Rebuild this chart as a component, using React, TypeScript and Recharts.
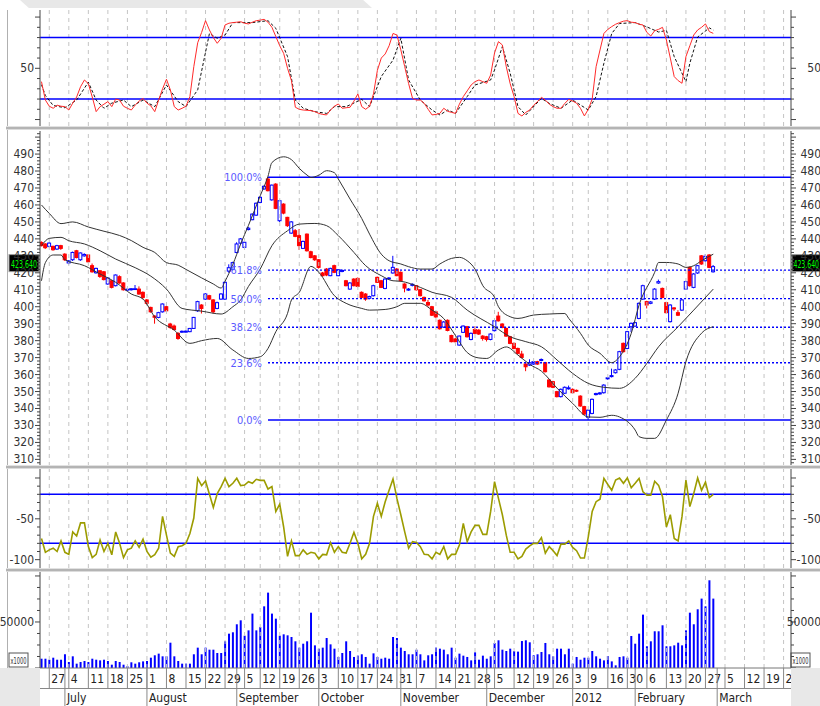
import React from "react";
import { ComposedChart, Bar, Line, XAxis, YAxis, ReferenceLine } from "recharts";

const FONT = '"Liberation Sans Narrow", "Arial Narrow", "DejaVu Sans Condensed", sans-serif';
const X_DOMAIN: [number, number] = [-0.38, 191.9];

// trading-day index of each weekly grid line and its label
const weekTicks: [number, string][] = [
  [2, "27"], [7, "4"], [12, "11"], [17, "18"], [22, "25"], [27, "1"], [32, "8"], [37, "15"],
  [42, "22"], [47, "29"], [52, "5"], [56, "12"], [61, "19"], [66, "26"], [71, "3"], [76, "10"],
  [81, "17"], [86, "24"], [91, "31"], [96, "7"], [101, "14"], [106, "21"], [111, "28"], [116, "5"],
  [121, "12"], [126, "19"], [131, "26"], [136, "3"], [140, "9"], [145, "16"], [150, "30"], [155, "6"],
  [160, "13"], [165, "20"], [170, "27"], [175, "5"], [180, "12"], [185, "19"], [190, "26"],
];
const monthTicks: [number, string][] = [
  [6, "July"], [27, "August"], [50, "September"], [71, "October"], [92, "November"],
  [114, "December"], [136, "2012"], [152, "February"], [173, "March"],
];

const opens = [
  437.9, 437.0, 435.6, 435.6, 434.0, 436.0, 431.0, 425.8, 427.7, 433.0, 427.7, 430.0, 430.5, 424.2, 420.0, 421.2, 420.6, 413.4, 415.3, 412.4,
  417.7, 414.0, 409.8, 410.0, 410.2, 410.4, 408.5, 404.0, 399.6, 394.5, 393.7, 397.0, 400.0, 389.8, 388.6, 384.3, 385.0, 385.0, 385.3, 387.2,
  397.6, 401.0, 404.5, 406.5, 404.0, 399.0, 404.5, 404.5, 421.0, 422.0, 432.0, 437.5, 435.0, 445.5, 451.3, 454.0, 461.5, 469.4, 475.3, 463.0,
  472.3, 450.7, 460.5, 452.7, 443.4, 444.8, 441.9, 434.4, 442.8, 432.4, 430.0, 427.7, 419.9, 422.2, 418.3, 424.2, 418.3, 420.8, 415.3, 410.4,
  416.3, 416.7, 408.5, 407.5, 405.0, 406.5, 417.3, 415.3, 410.8, 416.4, 419.9, 422.2, 420.3, 413.4, 409.8, 412.6, 412.4, 410.0, 405.5, 402.5,
  400.0, 397.0, 392.0, 388.0, 392.0, 383.0, 381.0, 377.4, 384.9, 388.2, 380.7, 386.6, 386.2, 382.7, 382.3, 380.7, 385.9, 394.5, 389.8, 387.2,
  382.3, 378.4, 375.4, 372.1, 366.2, 365.6, 366.2, 367.6, 368.3, 367.0, 356.8, 355.8, 349.9, 347.0, 349.0, 351.6, 351.3, 350.7, 347.3, 341.1,
  334.8, 337.1, 348.2, 348.6, 349.3, 357.5, 358.8, 361.1, 363.1, 378.4, 375.4, 388.2, 388.6, 393.1, 404.5, 403.0, 402.0, 404.5, 414.0, 410.8,
  402.4, 391.2, 399.3, 396.5, 398.0, 410.4, 423.2, 411.4, 419.9, 430.0, 427.1, 430.5, 420.6,
];
const closes = [
  436.0, 434.8, 437.5, 433.6, 436.0, 434.4, 427.7, 427.0, 432.0, 429.0, 431.7, 430.8, 426.5, 420.6, 422.6, 417.9, 416.0, 416.9, 411.4, 418.7,
  414.0, 410.0, 410.3, 410.6, 410.6, 407.5, 405.5, 402.0, 397.0, 393.8, 396.5, 401.6, 397.6, 387.8, 386.6, 381.3, 385.5, 385.6, 387.2, 393.7,
  403.0, 399.0, 407.5, 404.5, 397.0, 402.4, 407.5, 414.4, 423.0, 426.0, 437.0, 440.0, 438.0, 446.3, 454.6, 461.0, 464.5, 471.0, 468.4, 471.7,
  458.0, 462.5, 455.2, 447.8, 450.0, 441.5, 436.0, 438.5, 433.0, 429.0, 427.7, 423.2, 418.3, 418.7, 422.6, 420.3, 421.8, 421.4, 412.4, 414.0,
  412.4, 412.0, 405.5, 404.5, 406.0, 412.4, 414.4, 411.4, 416.3, 416.9, 423.2, 418.3, 415.3, 411.0, 410.4, 413.2, 410.0, 406.5, 403.5, 401.0,
  395.0, 394.0, 387.0, 391.0, 386.0, 379.4, 379.4, 382.7, 388.6, 382.3, 384.3, 384.3, 383.9, 381.3, 380.7, 383.9, 391.7, 391.7, 387.8, 382.7,
  378.4, 375.4, 372.5, 370.1, 364.6, 367.0, 367.6, 366.2, 368.9, 361.7, 352.8, 352.5, 347.0, 351.3, 352.5, 352.2, 349.3, 350.2, 341.5, 336.7,
  339.0, 345.4, 348.8, 349.2, 353.8, 358.1, 359.4, 362.7, 373.5, 373.5, 385.3, 390.2, 390.6, 402.0, 412.4, 401.0, 402.8, 410.4, 414.8, 405.5,
  396.5, 401.0, 398.7, 395.0, 404.0, 414.8, 412.4, 419.3, 424.2, 425.2, 429.7, 423.2, 423.64,
];
const highs = [
  438.6, 437.5, 438.0, 436.0, 436.5, 436.5, 431.5, 427.5, 432.5, 433.5, 432.0, 431.5, 431.0, 425.5, 423.0, 421.5, 421.0, 417.5, 415.8, 419.0,
  418.5, 414.5, 410.8, 411.0, 412.8, 412.0, 409.0, 404.5, 400.0, 395.0, 397.0, 402.0, 400.5, 390.5, 389.5, 385.0, 386.0, 386.0, 387.5, 394.0,
  403.5, 401.5, 408.0, 407.0, 404.5, 403.0, 408.0, 415.0, 425.0, 426.5, 438.0, 440.5, 438.5, 447.0, 455.0, 461.5, 465.0, 471.5, 476.3, 472.0,
  472.8, 463.0, 461.0, 453.0, 450.5, 445.8, 445.8, 439.0, 443.2, 433.0, 430.5, 428.0, 420.5, 422.8, 423.0, 424.8, 422.2, 422.0, 415.8, 414.5,
  416.8, 417.2, 409.0, 408.0, 406.5, 413.0, 417.8, 415.8, 416.8, 417.5, 430.0, 422.8, 420.8, 413.8, 411.0, 413.8, 412.8, 410.5, 406.0, 404.0,
  400.5, 397.5, 392.5, 391.5, 392.5, 383.5, 381.5, 383.0, 389.0, 388.7, 384.8, 388.5, 386.7, 383.2, 382.8, 384.4, 392.2, 397.0, 390.3, 387.7,
  382.8, 378.9, 375.9, 374.0, 366.7, 369.0, 368.1, 368.1, 369.5, 367.5, 357.3, 356.3, 350.4, 351.8, 353.0, 353.5, 351.8, 351.2, 347.8, 341.6,
  339.5, 345.9, 349.3, 349.7, 354.3, 358.6, 363.5, 363.2, 374.0, 378.9, 385.8, 390.7, 391.1, 402.5, 413.0, 403.5, 403.3, 410.9, 416.0, 411.3,
  402.9, 401.5, 399.8, 398.0, 404.5, 415.3, 423.7, 419.8, 424.7, 430.5, 431.0, 431.0, 424.6,
];
const lows = [
  435.5, 434.0, 435.0, 433.0, 433.5, 433.5, 427.0, 425.0, 427.0, 428.5, 427.0, 429.5, 426.0, 420.0, 419.5, 417.0, 415.5, 413.0, 410.8, 412.0,
  413.5, 409.5, 409.3, 409.5, 410.0, 407.0, 404.5, 401.0, 396.5, 390.0, 393.2, 396.5, 397.0, 387.0, 386.0, 380.5, 384.5, 384.8, 385.0, 387.0,
  397.0, 396.0, 404.0, 404.0, 396.0, 398.5, 404.0, 404.0, 420.0, 421.5, 431.5, 437.0, 434.5, 445.0, 451.0, 453.5, 461.0, 469.0, 468.0, 462.5,
  457.5, 450.0, 454.5, 447.0, 443.0, 441.0, 433.5, 434.0, 432.5, 428.5, 427.0, 422.5, 417.8, 418.0, 418.0, 419.8, 418.0, 420.3, 412.0, 410.0,
  412.0, 411.5, 405.0, 403.5, 404.5, 406.0, 414.0, 411.0, 410.3, 416.0, 419.5, 418.0, 414.8, 408.5, 409.3, 412.0, 409.5, 406.0, 403.0, 400.0,
  394.5, 393.5, 386.5, 387.5, 385.5, 379.0, 378.5, 377.0, 384.5, 381.8, 380.2, 383.8, 383.4, 380.0, 379.5, 380.2, 385.4, 391.2, 387.3, 382.2,
  377.9, 374.9, 372.0, 369.6, 362.0, 365.1, 365.7, 365.7, 367.8, 361.2, 352.3, 352.0, 346.5, 346.5, 348.5, 351.1, 348.8, 349.7, 341.0, 336.2,
  333.2, 336.6, 347.7, 348.1, 348.8, 357.0, 358.3, 360.6, 362.6, 373.0, 374.9, 385.0, 388.1, 392.6, 404.0, 399.0, 401.5, 404.0, 413.5, 405.0,
  396.0, 390.7, 397.5, 394.5, 397.5, 409.9, 411.9, 410.9, 419.4, 424.7, 426.6, 422.7, 420.1,
];
const volumes = [
  10100, 10100, 9000, 11200, 9000, 9000, 14900, 6500, 12700, 4700, 6500, 7600, 6500, 10100, 9000, 8300, 9000, 7600, 3600, 7600,
  6500, 3600, 2000, 6200, 4700, 6200, 7200, 7600, 11200, 13800, 15600, 12700, 12700, 27500, 12700, 7600, 4700, 4700, 4700, 14900,
  22100, 14900, 22100, 19900, 19900, 16300, 16300, 29000, 37300, 38800, 47500, 51800, 35100, 40900, 59100, 40900, 44600, 67000, 81900, 59100,
  53600, 35100, 36600, 35500, 33700, 29000, 22100, 26400, 29000, 60100, 24600, 21000, 22100, 32600, 25700, 21000, 12000, 16300, 29000, 18500,
  12000, 13400, 14900, 12000, 4700, 15900, 12000, 10100, 11200, 10100, 33700, 32600, 22100, 18500, 14900, 14900, 19900, 14900, 8300, 13800,
  14900, 22100, 21000, 19900, 14900, 22100, 11200, 15600, 13400, 12000, 8300, 17000, 9000, 13400, 10100, 12700, 27200, 30100, 19900, 18500,
  21000, 18500, 17800, 29300, 30100, 27900, 13800, 14900, 17400, 27200, 14900, 12700, 21000, 21000, 14900, 21000, 4700, 12000, 9000, 11200,
  11200, 18500, 12700, 10100, 8300, 13000, 7200, 2900, 12000, 12700, 11200, 34800, 26400, 37300, 58000, 23600, 29000, 39900, 39900, 46400,
  23600, 23600, 24600, 27500, 24600, 40900, 60100, 47500, 63800, 75400, 67000, 95300, 75400,
];
const stochK = [
  37, 19, 13, 11, 14, 13, 12.6, 9.3, 16, 22, 32, 38.6, 35, 22, 7.7, 12.6, 15, 17.5, 12.6, 20,
  19, 13, 11, 9.3, 14.2, 18, 20.7, 16, 13.3, 7.7, 19, 30, 39.3, 28.9, 12.6, 9.3, 11, 13, 22.4, 51.6,
  75, 85, 96.5, 87.4, 80, 74.4, 79.3, 92.3, 94, 94.6, 95, 95.5, 94, 93.3, 95, 96.5, 97, 97.8, 95, 90,
  81, 72, 64.6, 50, 38, 12, 10, 9.3, 9, 8.7, 7.7, 6, 5, 4.5, 9.3, 13, 15.2, 11, 11.5, 12,
  18, 25, 12.6, 10, 13, 25, 48, 60, 64, 72, 84, 82.5, 68, 51.6, 35, 20.7, 19, 19, 15.8, 10,
  4.5, 5, 6, 11, 8, 7, 6, 15, 22.4, 28, 33.7, 37, 38.6, 37, 35.4, 43.5, 65, 76, 72.8, 51.6,
  35, 22.4, 6, 3.5, 7, 9.3, 14, 17.5, 21.7, 19, 15, 12.6, 11, 11, 15.8, 19.7, 18, 16, 11, 3.5,
  10, 20, 51.6, 67.9, 84, 88, 90.7, 93, 94.6, 96, 96.5, 95, 94.6, 93, 92.3, 85, 81.5, 86.7, 88, 90,
  77.6, 60, 41.9, 38, 35.4, 61.4, 72, 82.5, 87.4, 90, 93.3, 85.8, 84.1,
];
const stochD: [number, number][] = [
  [0, 34], [1, 23.5], [3, 13.7], [6, 11.5], [9, 19], [12, 36.5], [14, 19], [16, 11], [18, 16], [21, 19],
  [23, 12.6], [26, 19], [29, 12.6], [32, 33.7], [35, 17.5], [37, 12.6], [40, 29], [43, 84], [45, 79.3], [47, 82.5],
  [49, 94.6], [54, 94.6], [58, 96.5], [60, 89], [63, 61.4], [65, 19], [67, 11], [70, 7.7], [73, 6], [75, 12.6],
  [78, 12.6], [82, 19.7], [84, 12.6], [87, 42], [90, 58], [92, 79.3], [94, 38.6], [97, 19], [100, 9.3], [102, 4.5],
  [104, 9.3], [106, 6], [109, 22.4], [111, 33.7], [115, 38.6], [116, 48.4], [118, 71.2], [120, 45.2], [122, 12.6], [124, 4.5],
  [128, 20.7], [130, 15.8], [133, 11], [136, 19], [138, 14.2], [140, 9.3], [142, 22.4], [144, 55], [146, 84], [148, 93.7],
  [152, 94.6], [155, 90.4], [158, 85.4], [160, 87], [162, 61.4], [165, 37], [166, 55], [168, 80.5], [171, 89.4], [172, 87.4],
];
const willR = [
  -74, -91, -88, -86, -90, -77, -91, -93.5, -66, -71, -55, -55, -84, -97.5, -93.5, -76, -90, -80, -94, -66,
  -80, -97.5, -88, -86, -77, -85, -75, -90, -97, -94, -86, -47, -70, -92, -96, -84, -83, -80, -68, -49,
  -0.5, -9.4, -3.7, -20, -36, -19, -10.6, -0.4, -10.6, -6.5, -0.4, -9.4, -8.6, -4.5, -6.5, -1.6, -2.9, -2.9, -13.5, -10.6,
  -41, -32, -60, -96, -77, -95, -95, -88, -93.5, -91, -92, -99, -93.5, -94, -79, -91, -84, -91, -92, -80,
  -66.5, -80, -99, -93.5, -80, -47, -31, -47, -29, -15, -1.2, -25, -45, -66, -86, -78, -79, -84, -93.5, -94,
  -99, -91, -93.5, -84, -99, -93.5, -93.5, -82, -55.5, -78, -66, -58, -58, -69, -69, -41, -4.5, -25, -45, -70,
  -91, -91, -99, -96, -87, -83, -80, -80, -73, -92, -84, -89, -95, -81, -81, -77, -85, -89, -98, -98,
  -72, -41, -29, -26, -0.5, -8, -15, -2.5, 0, -6.5, 0, -12, -6.5, -0.5, -17, -21, -21, -4, -9, -23,
  -60, -45, -74, -77, -47, -2.5, -35, -19, 0, -15, -5, -24, -20,
];
const bbUpper: [number, number][] = [
  [0, 460], [2, 455], [5, 449], [8, 450], [12, 447], [16, 444.5], [20, 442], [23, 439], [26, 435], [29, 432],
  [32, 426], [35, 424.5], [37, 422], [41, 417], [44, 413.4], [46, 411], [47, 415], [49, 425], [51, 437], [53, 448],
  [56, 465.4], [58, 477], [59, 485], [62, 488.4], [64, 486.7], [66, 481.6], [68, 477.6], [69, 476.2], [71, 477.5], [73, 480.2],
  [75, 479], [76, 475.3], [79, 463.5], [82, 452], [84, 442.8], [87, 431], [89, 427.1], [92, 425.2], [94, 423.6], [97, 422.2],
  [100, 422.2], [102, 425.2], [105, 428.5], [107, 429.1], [109, 427.1], [111, 422.2], [113, 412.4], [116, 405.5], [117, 400], [120, 394.1],
  [122, 393.1], [126, 395.1], [130, 395.7], [134, 396], [135, 393.1], [138, 384.3], [140, 377.4], [143, 372.5], [146, 367], [148, 370.5],
  [151, 384.3], [153, 401], [157, 420.3], [158, 426.1], [160, 426.1], [163, 425.2], [165, 423.2], [167, 424.2], [169, 427.1], [172, 431],
];
const bbMid: [number, number][] = [
  [0, 436], [2, 440.3], [5, 440.9], [7, 438.9], [11, 437], [15, 433], [19, 428.1], [24, 423], [28, 418], [32, 410.4],
  [36, 399], [41, 397.4], [46, 395.7], [49, 400], [51, 404], [53, 412], [56, 422.2], [59, 436], [63, 444.8], [66, 448.7],
  [70, 449.1], [73, 447.8], [76, 441.9], [80, 432], [83, 424.2], [87, 418.3], [90, 415.3], [92, 415], [97, 411.4], [100, 408.5],
  [105, 405.5], [109, 398], [116, 388.2], [120, 382.3], [124, 379.4], [128, 376.4], [132, 368.6], [136, 360.7], [140, 354.8], [144, 352.5],
  [148, 351.9], [152, 357.8], [155, 366.6], [158, 376.4], [163, 388.2], [167, 398], [172, 410.4],
];
const bbLower: [number, number][] = [
  [0, 415.3], [1, 426], [3, 430.5], [5, 430.5], [6, 427.7], [11, 424.2], [15, 419.3], [19, 414.4], [23, 407.5], [26, 404.5],
  [29, 394], [34, 386.2], [38, 378.4], [41, 380], [45, 381.3], [49, 374.5], [53, 369.5], [56, 370.5], [58, 375.4], [60, 385.3],
  [63, 396.1], [64, 404], [66, 408.5], [69, 423.8], [71, 420.3], [75, 406.5], [78, 402], [82, 399], [84, 398], [88, 398.4],
  [91, 400], [93, 402], [97, 402], [100, 398], [103, 393], [106, 383], [109, 373], [112, 369.8], [114, 369.5], [117, 374.5],
  [119, 376.3], [122, 371.5], [125, 366], [128, 362], [132, 352], [136, 343], [140, 335], [143, 334.8], [146, 336], [148, 335],
  [152, 327.3], [153, 323.4], [155, 322.4], [157, 322.4], [160, 333.2], [163, 349], [165, 367.6], [169, 384.4], [172, 388.2],
];

const fibLevels = [
  { text: "100.0%", value: 476.3, solid: true },
  { text: "61.8%", value: 421.6, solid: false },
  { text: "50.0%", value: 404.75, solid: false },
  { text: "38.2%", value: 387.9, solid: false },
  { text: "23.6%", value: 367.0, solid: false },
  { text: "0.0%", value: 333.2, solid: true },
];
const FIB_START = 58;
const LAST_PRICE = 423.64;

const rows: any[] = opens.map((o, i) => ({
  i, o, c: closes[i], h: highs[i], l: lows[i], hl: [lows[i], highs[i]],
  vol: volumes[i], k: stochK[i], wr: willR[i],
}));
const put = (pairs: [number, number][], key: string) => pairs.forEach(([i, v]) => { rows[i][key] = v; });
put(stochD, "d");
put(bbUpper, "up");
put(bbMid, "mid");
put(bbLower, "lo");

const range = (a: number, b: number, s: number) => {
  const out: number[] = [];
  for (let v = a; s > 0 ? v <= b : v >= b; v += s) out.push(v);
  return out;
};
const priceTicks = range(308, 502, 2);
const stochTicks = range(0, 100, 10);
const wrTicks = range(0, -100, -10);
const volTicks = range(0, 100000, 12500);

const weekMap = new Map(weekTicks);
const monthMap = new Map(monthTicks);
const dateTickIdx = Array.from(new Set([...weekTicks.map((w) => w[0]), ...monthTicks.map((m) => m[0])])).sort((a, b) => a - b);

const axisTick = (side: "l" | "r", isMajor: (v: number) => boolean, label: (v: number) => string | null) =>
  (props: any) => {
    const { x, y, payload } = props;
    const v = payload.value;
    const len = isMajor(v) ? 5 : 3;
    const text = label(v);
    const lx = side === "l" ? x - len : x + len;
    return (
      <g>
        <line x1={x} x2={lx} y1={y} y2={y} stroke="#444" />
        {text && (
          <text x={side === "l" ? x - 6 : 821} y={y + 4} textAnchor="end" fontSize={12} fontFamily={FONT} fill="#333">
            {text}
          </text>
        )}
      </g>
    );
  };

const priceLabel = (v: number) => (v % 10 === 0 && v >= 310 && v <= 490 ? String(v) : null);
const priceMajor = (v: number) => v % 10 === 0;
const stochLabel = (v: number) => (v === 50 ? "50" : null);
const fiftyMajor = (v: number) => v % 50 === 0;
const wrLabel = (v: number) => (v === -50 || v === -100 ? String(v) : null);
const volLabel = (v: number) => (v === 50000 ? "50000" : null);
const volMajor = (v: number) => v % 50000 === 0;

function Candle(props: any) {
  const { x, y, width, height, payload } = props;
  if (!payload) return null;
  const { o, c, h, l } = payload;
  const cx = x + width / 2;
  const span = h - l || 1;
  const py = (v: number) => y + ((h - v) / span) * height;
  const up = c >= o;
  const color = up ? "#0000ff" : "#ff0000";
  const top = py(Math.max(o, c));
  const bot = py(Math.min(o, c));
  return (
    <g>
      <line x1={cx} x2={cx} y1={y} y2={y + height} stroke={color} strokeWidth={1} />
      <rect x={cx - 1.5} y={top} width={3} height={Math.max(bot - top, 0.8)} fill={up ? "#ffffff" : color} stroke={color} strokeWidth={1} />
    </g>
  );
}

function PriceTag(props: any) {
  const { viewBox } = props;
  if (!viewBox) return null;
  const y = viewBox.y;
  const lx = viewBox.x - 31;
  const rx = viewBox.x + viewBox.width + 1;
  return (
    <g fontFamily={FONT} fontSize={10.5}>
      <rect x={lx} y={y - 12} width={30} height={17} fill="#000" stroke="#999" />
      <text x={lx + 2} y={y + 1} fill="#00ff00" textLength={26} lengthAdjust="spacingAndGlyphs">423.640</text>
      <rect x={rx} y={y - 12} width={30} height={17} fill="#000" stroke="#999" />
      <text x={rx + 1.5} y={y + 1} fill="#00ff00" textLength={25.5} lengthAdjust="spacingAndGlyphs">423.640</text>
    </g>
  );
}

function VolUnit(props: any) {
  const { viewBox } = props;
  if (!viewBox) return null;
  const y = viewBox.y;
  const lx = viewBox.x - 31;
  const rx = viewBox.x + viewBox.width;
  return (
    <g fontFamily={FONT} fontSize={9} fill="#333">
      <rect x={lx} y={y - 15} width={19} height={14} fill="#fff" stroke="#555" />
      <text x={lx + 1.5} y={y - 4.5} textLength={16} lengthAdjust="spacingAndGlyphs">x1000</text>
      <rect x={rx} y={y - 15} width={19} height={14} fill="#fff" stroke="#555" />
      <text x={rx + 1.5} y={y - 4.5} textLength={16} lengthAdjust="spacingAndGlyphs">x1000</text>
    </g>
  );
}

function DateTick(props: any) {
  const { x, y, payload } = props;
  const v = payload.value;
  const w = weekMap.get(v);
  const m = monthMap.get(v);
  return (
    <g fontFamily={FONT} fontSize={12} fill="#222">
      {w !== undefined && (
        <g>
          <line x1={x} x2={x} y1={y} y2={y + 20} stroke="#888" />
          <text x={x + 2} y={y + 15}>{w}</text>
        </g>
      )}
      {m !== undefined && (
        <g>
          <line x1={x} x2={x} y1={y} y2={y + 38} stroke="#888" />
          <text x={x + 2} y={y + 34}>{m}</text>
        </g>
      )}
    </g>
  );
}

const gridLines = () =>
  weekTicks.map(([i]) => (
    <ReferenceLine key={"g" + i} yAxisId="l" x={i} stroke="#c4c4c4" strokeDasharray="4 4" />
  ));

const yAxes = (domain: [number, number], ticks: number[], major: (v: number) => boolean, label: (v: number) => string | null) => [
  <YAxis key="yl" yAxisId="l" orientation="left" width={40} domain={domain} allowDataOverflow ticks={ticks} interval={0}
    tickSize={0} tickMargin={0} tickLine={false} axisLine={{ stroke: "#444" }} tick={axisTick("l", major, label)} />,
  <YAxis key="yr" yAxisId="r" orientation="right" width={29} domain={domain} allowDataOverflow ticks={ticks} interval={0}
    tickSize={0} tickMargin={0} tickLine={false} axisLine={{ stroke: "#444" }} tick={axisTick("r", major, label)} />,
];

const hiddenX = <XAxis type="number" dataKey="i" domain={X_DOMAIN} allowDataOverflow hide />;
const M = { top: 0, right: 0, bottom: 0, left: 0 };

const Separator = ({ top }: { top: number }) => (
  <div style={{ position: "absolute", left: 6, top, width: 814, height: 4, background: "#b4b4b4", borderTop: "1px solid #e2e2e2", borderBottom: "1px solid #dcdcdc", boxSizing: "border-box" }} />
);

export default function App() {
  return (
    <div style={{ position: "absolute", left: 0, top: 0, width: 820, height: 706, background: "#fff", overflow: "hidden", fontFamily: FONT }}>
      <div style={{ position: "absolute", left: 20, top: 0, width: 352, height: 8, background: "#e8e8e8", clipPath: "polygon(0 0, 97.5% 0, 100% 100%, 2.5% 100%)" }} />
      <div style={{ position: "absolute", left: 7, top: 10, width: 1, height: 658, background: "#b0b0b0" }} />

      {/* stochastic */}
      <div style={{ position: "absolute", left: 0, top: 10 }}>
        <ComposedChart width={820} height={116} data={rows} margin={M}>
          {hiddenX}
          {yAxes([-6.3, 106.9], stochTicks, fiftyMajor, stochLabel)}
          {gridLines()}
          <ReferenceLine yAxisId="l" y={80} stroke="#0000ff" strokeWidth={1.5} />
          <ReferenceLine yAxisId="l" y={20} stroke="#0000ff" strokeWidth={1.5} />
          <Line yAxisId="l" dataKey="d" stroke="#111" strokeWidth={1} strokeDasharray="3 2" dot={false} activeDot={false} connectNulls isAnimationActive={false} />
          <Line yAxisId="l" dataKey="k" stroke="#ff2a2a" strokeWidth={1} dot={false} activeDot={false} isAnimationActive={false} />
        </ComposedChart>
      </div>
      <Separator top={126} />

      {/* price */}
      <div style={{ position: "absolute", left: 0, top: 131 }}>
        <ComposedChart width={820} height={335} data={rows} margin={M}>
          {hiddenX}
          {yAxes([306.1, 503.6], priceTicks, priceMajor, priceLabel)}
          {gridLines()}
          {fibLevels.map((f) => (
            <ReferenceLine key={f.text} yAxisId="l" segment={[{ x: FIB_START, y: f.value }, { x: X_DOMAIN[1], y: f.value }]}
              stroke="#0000ff" strokeWidth={1.4} strokeDasharray={f.solid ? undefined : "2 2"}
              label={{ value: f.text, position: "left", offset: 6, fill: "#5a5aff", fontSize: 11, fontFamily: FONT }} />
          ))}
          <Line yAxisId="l" dataKey="up" type="monotone" stroke="#333" strokeWidth={1} dot={false} activeDot={false} connectNulls isAnimationActive={false} />
          <Line yAxisId="l" dataKey="mid" type="monotone" stroke="#333" strokeWidth={1} dot={false} activeDot={false} connectNulls isAnimationActive={false} />
          <Line yAxisId="l" dataKey="lo" type="monotone" stroke="#333" strokeWidth={1} dot={false} activeDot={false} connectNulls isAnimationActive={false} />
          <Bar yAxisId="l" dataKey="hl" barSize={4} shape={(p: any) => <Candle {...p} />} isAnimationActive={false} />
          <ReferenceLine yAxisId="l" y={LAST_PRICE} stroke="none" label={<PriceTag />} />
        </ComposedChart>
      </div>
      <Separator top={465} />

      {/* williams %R */}
      <div style={{ position: "absolute", left: 0, top: 469 }}>
        <ComposedChart width={820} height={99} data={rows} margin={M}>
          {hiddenX}
          {yAxes([-110.2, 11], wrTicks, fiftyMajor, wrLabel)}
          {gridLines()}
          <ReferenceLine yAxisId="l" y={-20} stroke="#0000ff" strokeWidth={1.5} />
          <ReferenceLine yAxisId="l" y={-80} stroke="#0000ff" strokeWidth={1.5} />
          <Line yAxisId="l" dataKey="wr" stroke="#9c9c00" strokeWidth={1.6} dot={false} activeDot={false} isAnimationActive={false} />
        </ComposedChart>
      </div>
      <Separator top={568} />

      {/* volume + date axis */}
      <div style={{ position: "absolute", left: 0, top: 572 }}>
        <ComposedChart width={820} height={134} data={rows} margin={M}>
          <XAxis type="number" dataKey="i" domain={X_DOMAIN} allowDataOverflow ticks={dateTickIdx} interval={0} height={38}
            tickSize={0} tickMargin={0} tickLine={false} axisLine={{ stroke: "#777" }} tick={<DateTick />} />
          {yAxes([0, 104300], volTicks, volMajor, volLabel)}
          {gridLines()}
          <Bar yAxisId="l" dataKey="vol" fill="#0000ff" barSize={2} isAnimationActive={false} />
          <ReferenceLine yAxisId="l" y={0} stroke="none" label={<VolUnit />} />
        </ComposedChart>
      </div>
      <div style={{ position: "absolute", left: 40, top: 688, width: 751, height: 1, background: "#888" }} />
      <div style={{ position: "absolute", left: 0, top: 668, width: 40, height: 38, background: "#e8e8e8" }} />
      <div style={{ position: "absolute", left: 791, top: 668, width: 29, height: 38, background: "#e8e8e8" }} />
    </div>
  );
}
